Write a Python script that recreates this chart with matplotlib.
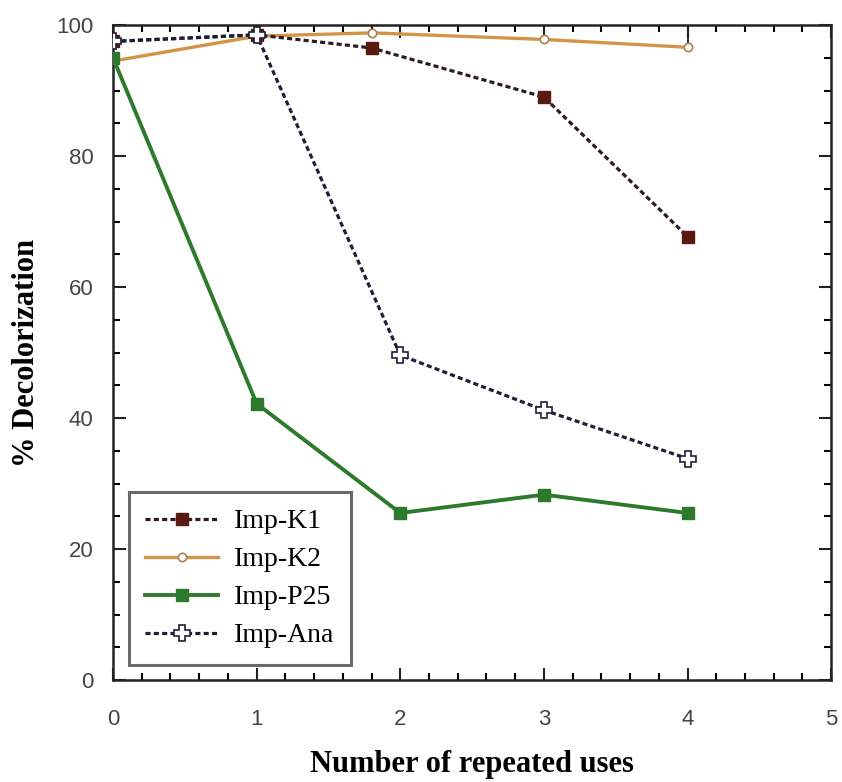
import matplotlib.pyplot as plt
from matplotlib.ticker import MultipleLocator

# data
uses = [0, 1, 2, 3, 4]
k1_x = [0, 1, 1.8, 3, 4]
k1 = [97.5, 98.5, 96.5, 89.0, 67.7]
k2_x = [0, 1, 1.8, 3, 4]
k2 = [94.5, 98.3, 98.8, 97.8, 96.6]
p25 = [95.0, 42.2, 25.5, 28.3, 25.5]
ana = [97.5, 98.5, 49.6, 41.2, 33.8]

fig = plt.figure(figsize=(8.42, 7.82), dpi=100)
ax = fig.add_axes([0.1342, 0.1304, 0.853, 0.8376])

dots = (0, (1.6, 1.0))
ax.plot(k1_x, k1, linestyle=dots, color="#2b1c24", lw=2.3, marker="s", ms=9,
        mfc="#5a1a10", mec="#5a1a10", label="Imp-K1", zorder=3)
ax.plot(k2_x, k2, "-", color="#d39448", lw=2.4, marker="o", ms=6,
        mfc="white", mec="#b08050", mew=1.2, label="Imp-K2", zorder=2)
ax.plot(uses, p25, "-", color="#2d7a2d", lw=2.8, marker="s", ms=9,
        mfc="#2d7a2d", mec="#2d7a2d", label="Imp-P25", zorder=3)
ax.plot(uses, ana, linestyle=dots, color="#1e1e38", lw=2.3, marker="P", ms=11,
        mfc="white", mec="#1e1e38", mew=1.2, label="Imp-Ana", zorder=4)
ax.vlines(k2_x[-1], k2[-1], 100, color="#333333", lw=1.5, zorder=1)

ax.set_xlim(0, 5)
ax.set_ylim(0, 100)
ax.xaxis.set_major_locator(MultipleLocator(1))
ax.xaxis.set_minor_locator(MultipleLocator(0.2))
ax.yaxis.set_major_locator(MultipleLocator(20))
ax.yaxis.set_minor_locator(MultipleLocator(5))
ax.tick_params(which="both", direction="in", top=True, right=True, width=1.5)
ax.tick_params(which="major", length=9, labelsize=16, colors="#222222")
ax.tick_params(which="minor", length=5)
ax.tick_params(axis="x", which="major", pad=21)
ax.tick_params(axis="y", which="major", pad=14)
for lab in ax.get_xticklabels() + ax.get_yticklabels():
    lab.set_family("Liberation Sans")
    lab.set_color("#444444")
for s in ax.spines.values():
    s.set_linewidth(1.8)
    s.set_color("#222222")

ax.set_xlabel("Number of repeated uses", family="Liberation Serif",
              fontweight="bold", fontsize=22, labelpad=14)
ax.set_ylabel("% Decolorization", family="Liberation Serif",
              fontweight="bold", fontsize=22, labelpad=11)

leg = ax.legend(loc="lower left", bbox_to_anchor=(0.022, 0.023),
                borderaxespad=0,
                prop={"family": "Liberation Serif", "size": 20},
                numpoints=1, handlelength=2.6, handletextpad=0.6,
                labelspacing=0.45, borderpad=0.6, fancybox=False,
                framealpha=1)
leg.get_frame().set_edgecolor("#6a6a6a")
leg.get_frame().set_linewidth(2.2)

fig.savefig("out.png", dpi=100)
